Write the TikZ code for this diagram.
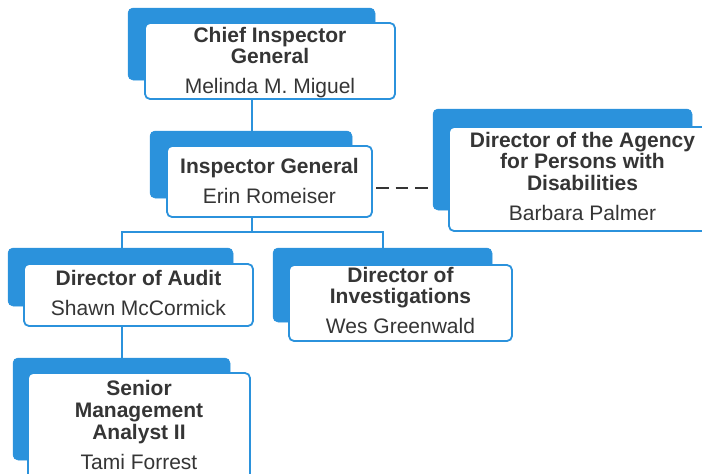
\documentclass[tikz,border=0pt]{standalone}
\usepackage{fontspec}
\setmainfont{Liberation Sans}
\definecolor{cblue}{HTML}{2B92DC}
\definecolor{ctext}{HTML}{353535}
\begin{document}
\begin{tikzpicture}[x=1pt,y=-1pt,
  back/.style={fill=cblue, draw=cblue, line width=0.5pt, rounded corners=5pt, inner sep=0pt, outer sep=0pt, anchor=north west},
  front/.style={fill=white, draw=cblue, line width=1.8pt, rounded corners=5pt, inner sep=0pt, outer sep=0pt, anchor=north west},
  ttl/.style={font=\fontsize{21}{21}\selectfont\bfseries, text=ctext, anchor=base, inner sep=0pt, align=center},
  nme/.style={font=\fontsize{21}{21}\selectfont, text=ctext, anchor=base, inner sep=0pt},
  conn/.style={draw=cblue, line width=2pt},
  dconn/.style={draw=ctext, line width=2pt, dash pattern=on 12.5pt off 7pt}]
\useasboundingbox (0,0) rectangle (702,474);
\clip (0,0) rectangle (702,474);
% Chief Inspector General
\node[back, minimum width=247pt, minimum height=72pt] (chiefb) at (128,8) {};
\node[front, minimum width=250pt, minimum height=76pt] (chief) at (145,23) {};
\node[ttl] (chieft1) at (270,42) {Chief Inspector};
\node[ttl] (chieft2) at (270,63) {General};
\node[nme] (chiefn) at (270,93) {Melinda M. Miguel};
% Inspector General
\node[back, minimum width=202pt, minimum height=67pt] (igb) at (150,131) {};
\node[front, minimum width=205pt, minimum height=71pt] (ig) at (167,146) {};
\node[ttl] (igt) at (269.5,173) {Inspector General};
\node[nme] (ign) at (269.5,203) {Erin Romeiser};
% Director of the Agency for Persons with Disabilities
\node[back, minimum width=259pt, minimum height=101pt] (apdb) at (433,109) {};
\node[front, minimum width=267pt, minimum height=104pt] (apd) at (449,127) {};
\node[ttl] (apdt1) at (582.5,147) {Director of the Agency};
\node[ttl] (apdt2) at (582.5,168) {for Persons with};
\node[ttl] (apdt3) at (582.5,190) {Disabilities};
\node[nme] (apdn) at (582.5,220) {Barbara Palmer};
% Director of Audit
\node[back, minimum width=225pt, minimum height=58pt] (audb) at (8,248) {};
\node[front, minimum width=229pt, minimum height=62pt] (aud) at (24,264) {};
\node[ttl] (audt) at (138.5,285) {Director of Audit};
\node[nme] (audn) at (138.5,315) {Shawn McCormick};
% Director of Investigations
\node[back, minimum width=219pt, minimum height=74pt] (invb) at (273,248) {};
\node[front, minimum width=223pt, minimum height=76pt] (inv) at (289,265) {};
\node[ttl] (invt1) at (400.5,282) {Director of};
\node[ttl] (invt2) at (400.5,303) {Investigations};
\node[nme] (invn) at (400.5,333) {Wes Greenwald};
% Senior Management Analyst II
\node[back, minimum width=217pt, minimum height=102pt] (smab) at (13,358) {};
\node[front, minimum width=222pt, minimum height=110pt] (sma) at (28,373) {};
\node[ttl] (smat1) at (139,395) {Senior};
\node[ttl] (smat2) at (139,417) {Management};
\node[ttl] (smat3) at (139,439) {Analyst II};
\node[nme] (sman) at (139,469) {Tami Forrest};
% connectors
\coordinate (jL) at (121.5,232);
\coordinate (jR) at (383,232);
\draw[conn] (252,0 |- chief.south) -- (252,0 |- igb.north);
\draw[conn] (252,0 |- ig.south) -- (252,0 |- jL);
\draw[conn, line join=miter] (jL |- audb.north) -- (jL) -- (jR) -- (jR |- invb.north);
\draw[conn] (121.5,0 |- aud.south) -- (121.5,0 |- smab.north);
\draw[dconn] ([xshift=4pt]ig.east |- 0,188) -- (apdb.west |- 0,188);
\end{tikzpicture}
\end{document}
